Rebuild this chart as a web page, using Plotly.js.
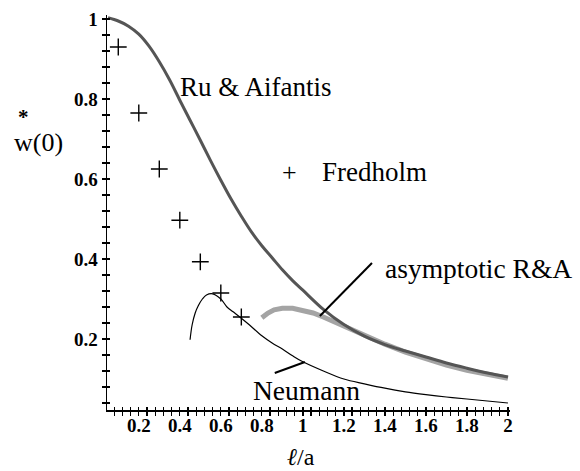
<!DOCTYPE html>
<html>
<head>
<meta charset="utf-8">
<script src="https://cdn.plot.ly/plotly-3.0.1.min.js"></script>
<style>html,body{margin:0;padding:0;background:#fff;}#chart{width:580px;height:471px;}</style>
</head>
<body>
<div id="chart"></div>
<script>
// Ru & Aifantis
const ruX = [0.05,0.1,0.15,0.2,0.25,0.3,0.35,0.4,0.45,0.5,0.55,0.6,0.65,0.7,0.75,0.8,0.85,0.9,0.95,1.0,1.1,1.2,1.3,1.4,1.5,1.6,1.7,1.8,1.9,2.0];
const ruY = [1.003,0.995,0.982,0.962,0.932,0.893,0.848,0.797,0.747,0.697,0.646,0.597,0.55,0.507,0.467,0.433,0.403,0.373,0.346,0.322,0.274,0.236,0.207,0.186,0.17,0.155,0.14,0.127,0.115,0.105];
// asymptotic R&A
const asX = [0.8,0.83,0.86,0.9,0.95,1.0,1.05,1.1,1.2,1.3,1.4,1.5,1.6,1.7,1.8,1.9,2.0];
const asY = [0.253,0.265,0.273,0.277,0.277,0.272,0.265,0.255,0.232,0.21,0.187,0.167,0.15,0.135,0.122,0.111,0.102];
// Neumann
const neX = [0.45,0.46,0.475,0.49,0.51,0.53,0.56,0.6,0.63,0.66,0.7,0.74,0.8,0.85,0.9,0.95,1.0,1.1,1.2,1.3,1.4,1.5,1.6,1.7,1.8,1.9,2.0];
const neY = [0.198,0.235,0.265,0.283,0.3,0.31,0.313,0.3,0.28,0.268,0.252,0.235,0.208,0.19,0.175,0.158,0.143,0.12,0.1,0.088,0.077,0.068,0.061,0.055,0.05,0.045,0.04];
// Fredholm
const frX = [0.1,0.2,0.3,0.4,0.5,0.6,0.7];
const frY = [0.93,0.765,0.625,0.497,0.393,0.315,0.255];
// ticks
const xTickVals = [0.2,0.4,0.6,0.8,1,1.2,1.4,1.6,1.8,2];
const xTickText = ['0.2','0.4','0.6','0.8','1','1.2','1.4','1.6','1.8','2'];
const yTickVals = [0.2,0.4,0.6,0.8,1];
const yTickText = ['0.2','0.4','0.6','0.8','1'];

const serif = 'Liberation Serif';
const xr = [0.045, 2.01];
const yr = [0.0225, 1.01];

const traces = [
  {x: asX, y: asY, mode: 'lines', line: {color: '#a4a4a4', width: 5}, hoverinfo: 'skip'},
  {x: ruX, y: ruY, mode: 'lines', line: {color: '#555555', width: 3, shape: 'spline'}, hoverinfo: 'skip'},
  {x: neX, y: neY, mode: 'lines', line: {color: '#000000', width: 1.2, shape: 'spline'}, hoverinfo: 'skip'},
  {x: frX, y: frY, mode: 'markers', marker: {symbol: 'cross-thin', size: 12, line: {color: '#000', width: 1.4}}, hoverinfo: 'skip'},
  {x: [], y: [], xaxis: 'x2', yaxis: 'y2', mode: 'markers', hoverinfo: 'skip'}
];

const tickMain = {
  showline: true, linecolor: '#000', linewidth: 1.5, zeroline: false, showgrid: false,
  ticks: 'outside', ticklen: 4, tickwidth: 1.3, tickcolor: '#000',
  tickfont: {family: serif, size: 19, weight: 'bold', color: '#000'}
};

function ann(text, x, y, xref, size, extra) {
  return Object.assign({text: text, x: x, y: y, xref: xref, yref: xref === 'x' ? 'y' : 'paper',
    xanchor: 'center', yanchor: 'middle', showarrow: false,
    font: {family: serif, size: size, color: '#000'}}, extra || {});
}

const layout = {
  width: 580, height: 471,
  margin: {l: 107, r: 70, t: 15, b: 61},
  paper_bgcolor: '#fff', plot_bgcolor: '#fff',
  showlegend: false,
  xaxis: Object.assign({}, tickMain, {range: xr, tickvals: xTickVals, ticktext: xTickText, ticklabelstandoff: -6,
    minor: {dtick: 0.04, tick0: 0, ticks: 'outside', ticklen: 4, tickwidth: 1.2, tickcolor: '#000'}}),
  yaxis: Object.assign({}, tickMain, {range: yr, tickvals: yTickVals, ticktext: yTickText,
    minor: {dtick: 0.04, tick0: 0, ticks: 'outside', ticklen: 4, tickwidth: 1.2, tickcolor: '#000'}}),
  xaxis2: {overlaying: 'x', anchor: 'y2', range: xr, showline: false, showgrid: false, zeroline: false,
    showticklabels: false, tickvals: xTickVals, ticks: 'inside', ticklen: 3, tickwidth: 1.3, tickcolor: '#000',
    minor: {dtick: 0.04, tick0: 0, ticks: 'inside', ticklen: 3, tickwidth: 1.2, tickcolor: '#000'}},
  yaxis2: {overlaying: 'y', anchor: 'x2', range: yr, showline: false, showgrid: false, zeroline: false,
    showticklabels: false, tickvals: yTickVals, ticks: 'inside', ticklen: 3, tickwidth: 1.3, tickcolor: '#000',
    minor: {dtick: 0.04, tick0: 0, ticks: 'inside', ticklen: 3, tickwidth: 1.2, tickcolor: '#000'}},
  shapes: [
    {type: 'line', xref: 'x', yref: 'y', x0: 1.337, y0: 0.39, x1: 1.083, y1: 0.2575, line: {color: '#000', width: 2}},
    {type: 'line', xref: 'x', yref: 'y', x0: 0.863, y0: 0.115, x1: 1.01, y1: 0.1425, line: {color: '#000', width: 2}}
  ],
  annotations: [
    ann('Ru &amp; Aifantis', 0.771, 0.83, 'x', 27),
    ann('+', 0.937, 0.6175, 'x', 26),
    ann('Fredholm', 1.083, 0.6175, 'x', 27, {xanchor: 'left'}),
    ann('asymptotic R&amp;A', 1.39, 0.3775, 'x', 27.5, {xanchor: 'left'}),
    ann('Neumann', 1.02, 0.0725, 'x', 27.5),
    ann('w(0)', -0.171, 0.676, 'paper', 26),
    ann('*', -0.207, 0.742, 'paper', 21, {font: {family: serif, size: 21, color: '#000', weight: 'bold'}}),
    ann('<i>ℓ</i>/a', 0.481, -0.12, 'paper', 24)
  ]
};

Plotly.newPlot('chart', traces, layout, {staticPlot: true, displayModeBar: false});
</script>
</body>
</html>
